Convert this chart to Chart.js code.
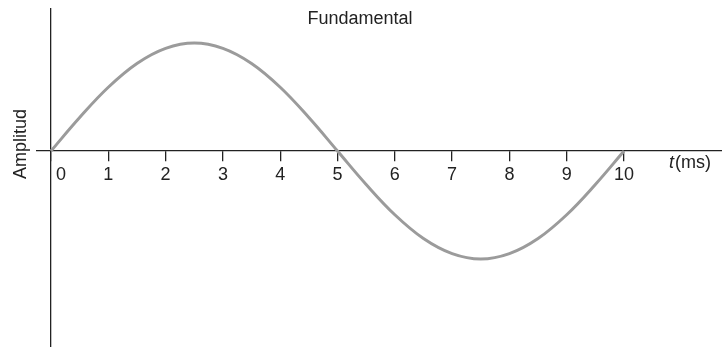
<!DOCTYPE html>
<html>
<head>
<meta charset="utf-8">
<script src="https://cdn.jsdelivr.net/npm/chart.js@4/dist/chart.umd.min.js"></script>
<style>
  html, body { margin: 0; padding: 0; background: #ffffff; }
  #wrap { width: 722px; height: 347px; position: relative; }
</style>
</head>
<body>
<div id="wrap"><canvas id="c" width="722" height="347"></canvas></div>
<script>
// ---- data ----
const times = [0, 0.5, 1, 1.5, 2, 2.5, 3, 3.5, 4, 4.5, 5, 5.5, 6, 6.5, 7, 7.5, 8, 8.5, 9, 9.5, 10];
const amplitude = [0, 0.31, 0.59, 0.81, 0.95, 1, 0.95, 0.81, 0.59, 0.31, 0, -0.31, -0.59, -0.81, -0.95, -1, -0.95, -0.81, -0.59, -0.31, 0];
const tickValues = [0, 1, 2, 3, 4, 5, 6, 7, 8, 9, 10];
const titleText = 'Fundamental';
const yAxisLabel = 'Amplitud';
const xAxisLabelItalic = 't';
const xAxisLabelRest = '(ms)';

const FONT = '"Liberation Sans", Arial, sans-serif';
const INK = '#222222';

const textPlugin = {
  id: 'texts',
  afterDraw(chart) {
    const ctx = chart.ctx;
    const xs = chart.scales.x, ys = chart.scales.y;
    ctx.save();
    ctx.fillStyle = INK;
    // title
    ctx.font = '18px ' + FONT;
    ctx.textAlign = 'center';
    ctx.textBaseline = 'middle';
    ctx.fillText(titleText, 360, 19);
    // y label
    ctx.save();
    ctx.translate(21, 144);
    ctx.rotate(-Math.PI / 2);
    ctx.fillText(yAxisLabel, 0, 0);
    ctx.restore();
    // x label
    const y0 = ys.getPixelForValue(0);
    ctx.textAlign = 'left';
    ctx.font = 'italic 18px ' + FONT;
    const x0 = 669;
    ctx.fillText(xAxisLabelItalic, x0, y0 + 12);
    const w = ctx.measureText(xAxisLabelItalic).width;
    ctx.font = '18px ' + FONT;
    ctx.fillText(xAxisLabelRest, x0 + w + 1, y0 + 12);
    ctx.restore();
  }
};

new Chart(document.getElementById('c'), {
  type: 'line',
  data: {
    datasets: [{
      data: times.map((t, i) => ({ x: t, y: amplitude[i] })),
      borderColor: '#9b9b9b',
      borderWidth: 3,
      pointRadius: 0,
      tension: 0.4,
      fill: false
    }]
  },
  options: {
    responsive: false,
    devicePixelRatio: 1,
    animation: false,
    layout: { padding: { left: 37, top: 9, right: 0, bottom: 0 } },
    plugins: { legend: { display: false }, tooltip: { enabled: false }, title: { display: false } },
    scales: {
      x: {
        type: 'linear',
        min: -0.2443,
        max: 11.71,
        position: { y: 0 },
        afterFit(s) { s.height = 0; },
        afterBuildTicks(s) { s.ticks = tickValues.map(v => ({ value: v })); },
        ticks: {
          autoSkip: false,
          maxRotation: 0,
          padding: 3,
          color: INK,
          font: { family: FONT, size: 18 },
          callback: (v) => (v === 0 ? '    0' : String(v))
        },
        grid: { drawOnChartArea: false, drawTicks: true, tickLength: 10, color: INK, lineWidth: 1.3 },
        border: { display: true, color: INK, width: 1.3 }
      },
      y: {
        type: 'linear',
        min: -1.8148,
        max: 1.3148,
        position: { x: 0 },
        afterFit(s) { s.width = 0; },
        ticks: { display: false },
        grid: { display: false },
        border: { display: true, color: INK, width: 1.3 }
      }
    }
  },
  plugins: [textPlugin]
});
</script>
</body>
</html>
